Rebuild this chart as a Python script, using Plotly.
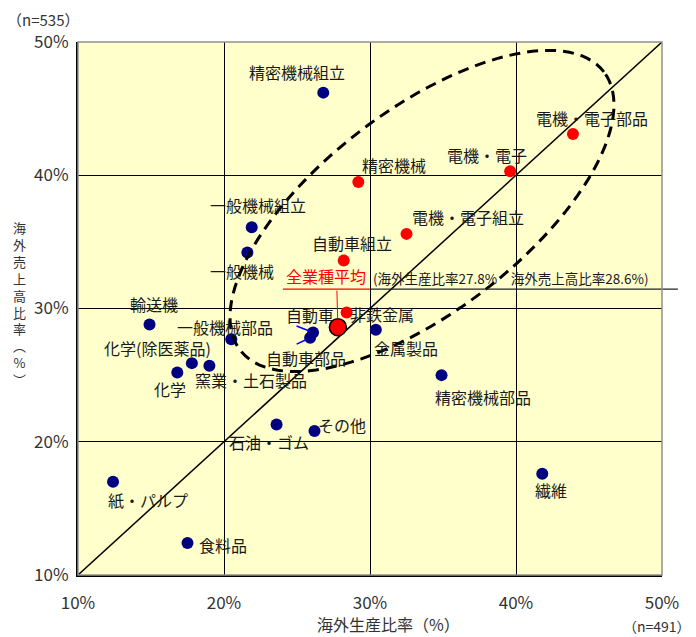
import numpy as np
import plotly.graph_objects as go

# ---------------- data ----------------
industries = ["精密機械組立", "電機・電子部品", "電機・電子", "精密機械", "電機・電子組立",
              "自動車組立", "一般機械組立", "一般機械", "非鉄金属", "自動車", "自動車部品",
              "金属製品", "一般機械部品", "輸送機", "化学(除医薬品)", "化学", "窯業・土石製品",
              "精密機械部品", "石油・ゴム", "その他", "紙・パルプ", "食料品", "繊維"]
prod_ratio = [26.8, 43.9, 39.6, 29.2, 32.5, 28.2, 21.9, 21.6, 28.4, 26.1, 25.9,
              30.4, 20.5, 14.9, 17.8, 16.8, 19.0, 34.9, 23.6, 26.2, 12.4, 17.5, 41.8]
sales_ratio = [46.2, 43.1, 40.3, 39.5, 35.6, 33.6, 36.1, 34.2, 29.7, 28.2, 27.8,
               28.4, 27.7, 28.8, 25.9, 25.2, 25.7, 25.0, 21.3, 20.8, 17.0, 12.4, 17.6]
highlight = [False, True, True, True, True, True, False, False, True, False, False,
             False, False, False, False, False, False, False, False, False, False, False, False]

avg_label = "全業種平均"
avg_prod = 27.8
avg_sales = 28.6

tick_values = [10, 20, 30, 40, 50]
tick_labels = ["10%", "20%", "30%", "40%", "50%"]
x_title = "海外生産比率（%）"
y_title_chars = ["海", "外", "売", "上", "高", "比", "率", "︵", "%", "︶"]
n_sales = "（n=535）"
n_prod = "（n=491）"

# ---------------- layout / style ----------------
# the page body adds an 8px offset; margins compensate so the plot box lands at
# screen x 78..662, y 42..575
W, H = 696, 637
OFF = 8
ML, MT = 78 - OFF, 42 - OFF
PW, PH = 584, 533
MR = W - ML - PW
MB = H - MT - PH
XR, YR = [10, 50], [10, 50]
px_x = PW / (XR[1] - XR[0])
px_y = PH / (YR[1] - YR[0])


def pxp(sx):   # screen x pixel -> paper
    return (sx - 78) / PW


def pyp(sy):   # screen y pixel -> paper
    return (575 - sy) / PH


FONT = "Noto Sans CJK JP, Noto Sans, sans-serif"
BLUE = "#000080"
RED = "#FF0000"
TXT = "#1a1a1a"

# label offsets (pixels, dx right, dy down) for each industry label
label_offsets = [(-26, -21), (19, -16), (-23, -16), (36, -17), (61, -17),
                 (8, -18), (6, -22), (-5, 18), (35, 1), (-3, -17), (-4, 20),
                 (30, 18), (-6, -12), (4, -20), (-34, -15), (-7, 17), (42, 14),
                 (41, 22), (-8, 18), (27, -6), (35, 18), (35, 2), (9, 16)]

# ellipse (pixel geometry) around the high group
ell_center = (33.56, 37.32)
ell_a, ell_b, ell_angle = 229, 101, 37.4

fig = go.Figure()

fig.add_trace(go.Scatter(x=XR, y=YR, mode="lines",
                         line=dict(color="black", width=1.5),
                         hoverinfo="skip", showlegend=False))

colors = [RED if h else BLUE for h in highlight]
fig.add_trace(go.Scatter(x=prod_ratio, y=sales_ratio, mode="markers",
                         marker=dict(size=12, color=colors, line=dict(width=0)),
                         text=industries, showlegend=False))

fig.add_trace(go.Scatter(x=[avg_prod], y=[avg_sales], mode="markers",
                         marker=dict(size=17, color=RED, line=dict(color="black", width=1.5)),
                         showlegend=False))

ann = []
for name, x, y, (dx, dy) in zip(industries, prod_ratio, sales_ratio, label_offsets):
    ann.append(dict(x=x, y=y, xref="x", yref="y", text=name, showarrow=False,
                    xshift=dx, yshift=-dy, font=dict(family=FONT, size=16, color=TXT)))

for name, (ax, ay) in [("自動車", (-18, -7)), ("自動車部品", (-15, 7))]:
    i = industries.index(name)
    ann.append(dict(x=prod_ratio[i], y=sales_ratio[i], xref="x", yref="y", text="",
                    showarrow=True, arrowhead=0, arrowwidth=1.5, arrowcolor="#0000FF",
                    ax=ax, ay=ay, standoff=4))

ann.append(dict(x=avg_prod, y=avg_sales, xref="x", yref="y", text=avg_label, showarrow=False,
                xshift=-12, yshift=51, font=dict(family=FONT, size=16, color=RED)))
ann.append(dict(x=avg_prod, y=avg_sales, xref="x", yref="y", text="", showarrow=True,
                arrowhead=0, arrowwidth=1, arrowcolor=RED, ax=-1, ay=-38, standoff=8))
ann.append(dict(x=avg_prod, y=avg_sales, xref="x", yref="y",
                text=f"(海外生産比率{avg_prod}%　海外売上高比率{avg_sales}%)",
                showarrow=False, xanchor="left", xshift=33, yshift=49,
                font=dict(family=FONT, size=13.5, color=TXT)))

ann.append(dict(x=pxp(388), y=pyp(624), xref="paper", yref="paper", text=x_title,
                showarrow=False, xanchor="center", yanchor="middle",
                font=dict(family=FONT, size=16, color="#333")))
ann.append(dict(x=pxp(19), y=pyp(303), xref="paper", yref="paper",
                text="<br>".join(y_title_chars),
                showarrow=False, xanchor="center", yanchor="middle",
                font=dict(family=FONT, size=13, color="#333")))
ann.append(dict(x=pxp(5), y=pyp(20), xref="paper", yref="paper", text=n_sales, showarrow=False,
                xanchor="left", yanchor="middle", font=dict(family=FONT, size=15, color="#333")))
ann.append(dict(x=pxp(693), y=pyp(626), xref="paper", yref="paper", text=n_prod, showarrow=False,
                xanchor="right", yanchor="middle", font=dict(family=FONT, size=14, color="#333")))

t = np.linspace(0, 2 * np.pi, 120)
th = np.radians(ell_angle)
ex = ell_center[0] + (ell_a * np.cos(th) * np.cos(t) - ell_b * np.sin(th) * np.sin(t)) / px_x
ey = ell_center[1] + (ell_a * np.sin(th) * np.cos(t) + ell_b * np.cos(th) * np.sin(t)) / px_y
path = "M " + " L ".join(f"{a:.4f},{b:.4f}" for a, b in zip(ex, ey)) + " Z"

# underline (paper coords so it can extend past the plot edge)
avg_px = 78 + (avg_prod - XR[0]) * px_x
avg_py = 575 - (avg_sales - YR[0]) * px_y
uy = pyp(avg_py - 38)
shapes = [
    dict(type="path", path=path, xref="x", yref="y",
         line=dict(color="black", width=3, dash="11px,7px")),
    dict(type="line", xref="paper", yref="paper", x0=pxp(avg_px - 55), x1=pxp(avg_px + 32),
         y0=uy, y1=uy, line=dict(color=RED, width=1.3)),
    dict(type="line", xref="paper", yref="paper", x0=pxp(avg_px + 32), x1=pxp(avg_px + 340),
         y0=uy, y1=uy, line=dict(color="#222", width=1.2)),
    dict(type="rect", xref="paper", yref="paper", x0=0, x1=1, y0=0, y1=1,
         line=dict(color="#909090", width=1.5), layer="above"),
]

fig.update_layout(
    width=W, height=H,
    margin=dict(l=ML, r=MR, t=MT, b=MB, autoexpand=False),
    paper_bgcolor="white", plot_bgcolor="#FFFFCC",
    annotations=ann, shapes=shapes, showlegend=False,
    font=dict(family=FONT),
)
fig.update_xaxes(range=XR, tickvals=tick_values, ticktext=tick_labels,
                 showgrid=True, gridcolor="black", gridwidth=1, zeroline=False,
                 showline=True, linecolor="black", linewidth=2,
                 ticks="", ticklabelstandoff=12,
                 tickfont=dict(family=FONT, size=17, color="#333"))
fig.update_yaxes(range=YR, tickvals=tick_values, ticktext=tick_labels,
                 showgrid=True, gridcolor="black", gridwidth=1, zeroline=False,
                 showline=True, linecolor="black", linewidth=2,
                 ticks="", ticklabelstandoff=4,
                 tickfont=dict(family=FONT, size=17, color="#333"))

fig.write_html("out.html")
